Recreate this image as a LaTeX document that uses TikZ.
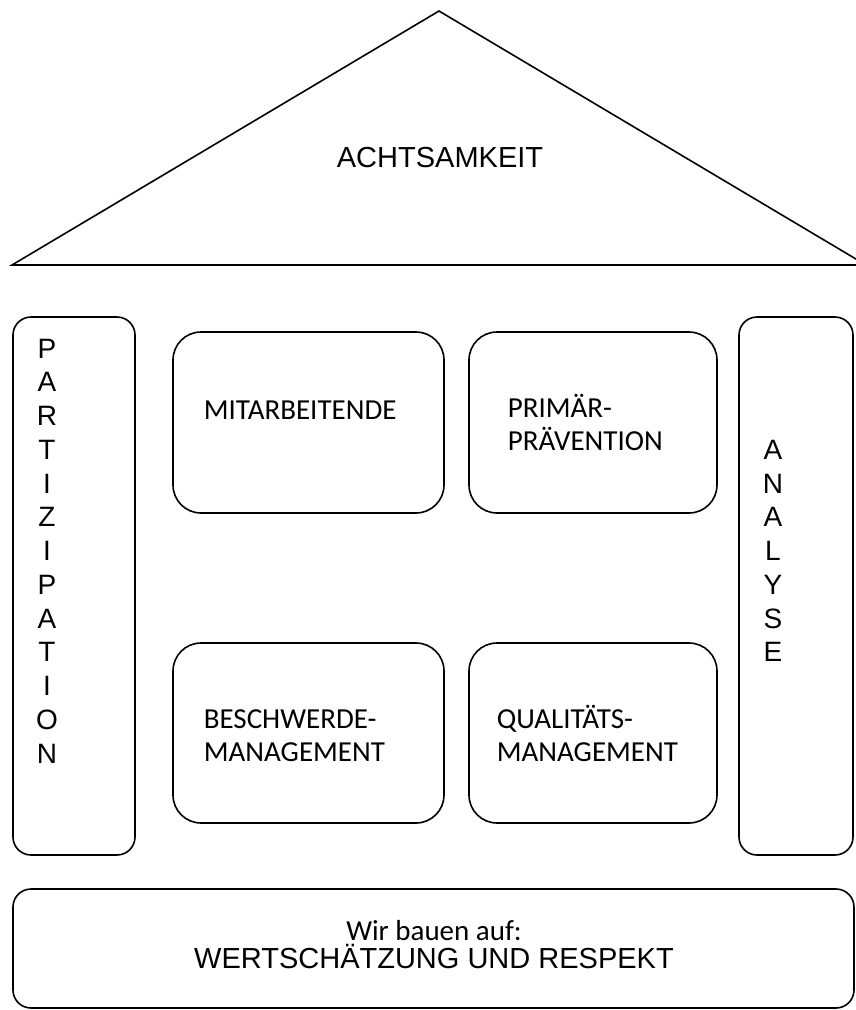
\documentclass[tikz,border=0pt]{standalone}
\usepackage{fontspec}
\setmainfont{Liberation Sans}
\newfontfamily\carlitofont{Carlito}
\begin{document}
\begin{tikzpicture}[x=1pt,y=-1pt,
  line width=1.6pt,
  pillar/.style={draw, rounded corners=18pt, inner sep=0pt},
  room/.style={draw, rounded corners=28pt, inner sep=0pt},
  roomtext/.style={anchor=base west, inner sep=0pt, align=left, font=\carlitofont\fontsize{29}{33}\selectfont},
  vtext/.style={inner sep=0pt, align=center, font=\fontsize{28}{33.75}\selectfont},
]
\useasboundingbox (0,0) rectangle (855,1010);
% roof
\coordinate (apex) at (439,11);
\coordinate (rl) at (12,265);
\coordinate (rr) at (866,265);
\draw[line join=miter] (rl) -- (apex) -- (rr) -- cycle;
\node[anchor=base, inner sep=0pt, font=\fontsize{29}{33}\selectfont] (roof) at (440,167) {ACHTSAMKEIT};
% pillars
\draw[pillar] (13,317) rectangle (135,855);
\node[vtext] (part) at (47,551) {P\\A\\R\\T\\I\\Z\\I\\P\\A\\T\\I\\O\\N};
\draw[pillar] (739,317) rectangle (853,855);
\node[vtext] (ana) at (773,551) {A\\N\\A\\L\\Y\\S\\E};
% rooms
\draw[room] (173,332) rectangle (444,513);
\node[roomtext] (mit) at (203,419) {MITARBEITENDE};
\draw[room] (469,332) rectangle (717,513);
\node[roomtext] (prim) at (507,450) {PRIMÄR-\\PRÄVENTION};
\draw[room] (173,643) rectangle (444,823);
\node[roomtext] (besch) at (203,761) {BESCHWERDE-\\MANAGEMENT};
\draw[room] (469,643) rectangle (717,823);
\node[roomtext] (qual) at (496,761) {QUALITÄTS-\\MANAGEMENT};
% foundation
\draw[pillar] (13,889) rectangle (854,1008);
\node[anchor=base, inner sep=0pt, font=\carlitofont\fontsize{29}{33}\selectfont] (wir) at (434,940) {Wir bauen auf:};
\node[anchor=base, inner sep=0pt, font=\fontsize{29}{33}\selectfont] (wert) at (434,968) {WERTSCHÄTZUNG UND RESPEKT};
\end{tikzpicture}
\end{document}
